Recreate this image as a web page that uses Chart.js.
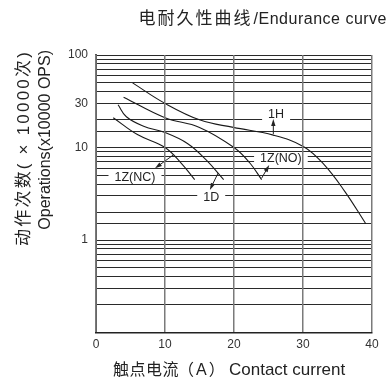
<!DOCTYPE html>
<html>
<head>
<meta charset="utf-8">
<script src="https://cdn.jsdelivr.net/npm/chart.js@4/dist/chart.umd.min.js"></script>
<style>
  body { margin: 0; background: #fff; }
  #wrap { position: relative; width: 390px; height: 379px; }
</style>
</head>
<body>
<div id="wrap"><canvas id="endurance-chart"></canvas></div>
<script>
// 曲线数据 (x: 触点电流 A, y: 动作次数 ×10000)
const curveNames = ['1H', '1Z(NO)', '1D', '1Z(NC)'];
const current1H = [5.3, 10, 15.1, 19.9, 25.7, 30.1, 33, 36, 39.1];
const ops1H = [50, 30, 19.8, 16.5, 13.6, 10.2, 6.6, 3.4, 1.5];
const current1ZNO = [4.0, 10, 15, 20, 22.3, 24];
const ops1ZNO = [35, 21, 16.5, 10, 6.8, 4.5];
const current1D = [3.2, 4.4, 6.9, 10, 13.3, 16, 18.5];
const ops1D = [29, 21.5, 17, 14.5, 11, 7.3, 4.5];
const current1ZNC = [2.5, 6, 10, 12.4, 14.3];
const ops1ZNC = [21, 13.8, 10, 6.7, 4.5];

const yTickLabels = [100, 30, 10, 1];
const xTickValues = [0, 10, 20, 30, 40];

// 曲线标注: 文字位置 + 箭头 (从曲线指向文字)
const curveLabels = [
    { text: '1H', x: 26.1, y: 23, from: [25.7, 14.0], to: [25.7, 20.3] },
    { text: '1Z(NO)', x: 26.8, y: 7.7, from: [24.0, 4.65], to: [25.1, 6.47] },
    { text: '1Z(NC)', x: 5.65, y: 4.83, from: [11.2, 8.3], to: [8.55, 5.96] },
    { text: '1D', x: 16.7, y: 2.9, from: [17.7, 5.3], to: [16.5, 3.48] }
];

const latinFont = "'Liberation Sans', Arial, sans-serif";
const cjkFont = "'Liberation Sans', 'Noto Sans CJK SC', sans-serif";

function toPoints(xs, ys) {
    return xs.map((x, i) => ({ x: x, y: ys[i] }));
}

const seriesData = [
    toPoints(current1H, ops1H),
    toPoints(current1ZNO, ops1ZNO),
    toPoints(current1D, ops1D),
    toPoints(current1ZNC, ops1ZNC)
];

const labelBoxes = {
    id: 'labelBoxes',
    beforeDatasetsDraw(chart) {
        const ctx = chart.ctx;
        const xs = chart.scales.x, ys = chart.scales.y;
        ctx.save();
        ctx.font = '12.5px ' + latinFont;
        ctx.fillStyle = '#fff';
        curveLabels.forEach(l => {
            const px = xs.getPixelForValue(l.x);
            const py = ys.getPixelForValue(l.y);
            const w = ctx.measureText(l.text).width;
            ctx.fillRect(px - w / 2 - 6, py - 6, w + 12, 13);
        });
        ctx.restore();
    },
    afterDatasetsDraw(chart) {
        const ctx = chart.ctx;
        const xs = chart.scales.x, ys = chart.scales.y;
        ctx.save();
        ctx.font = '12.5px ' + latinFont;
        ctx.fillStyle = '#222';
        ctx.strokeStyle = '#222';
        ctx.textAlign = 'center';
        ctx.textBaseline = 'middle';
        curveLabels.forEach(l => {
            const px = xs.getPixelForValue(l.x);
            const py = ys.getPixelForValue(l.y);
            ctx.fillText(l.text, px, py + 0.5);

            const x1 = xs.getPixelForValue(l.from[0]), y1 = ys.getPixelForValue(l.from[1]);
            const x2 = xs.getPixelForValue(l.to[0]), y2 = ys.getPixelForValue(l.to[1]);
            const ang = Math.atan2(y2 - y1, x2 - x1);
            ctx.lineWidth = 1;
            ctx.beginPath();
            ctx.moveTo(x1, y1);
            ctx.lineTo(x2 - 5 * Math.cos(ang), y2 - 5 * Math.sin(ang));
            ctx.stroke();
            ctx.beginPath();
            ctx.moveTo(x2, y2);
            ctx.lineTo(x2 - 7 * Math.cos(ang) + 2.2 * Math.sin(ang), y2 - 7 * Math.sin(ang) - 2.2 * Math.cos(ang));
            ctx.lineTo(x2 - 7 * Math.cos(ang) - 2.2 * Math.sin(ang), y2 - 7 * Math.sin(ang) + 2.2 * Math.cos(ang));
            ctx.closePath();
            ctx.fill();
        });
        ctx.restore();
    }
};

const titles = {
    id: 'titles',
    afterDraw(chart) {
        const ctx = chart.ctx;
        ctx.save();
        ctx.fillStyle = '#222';
        ctx.textBaseline = 'alphabetic';

        // 标题
        ctx.textAlign = 'right';
        ctx.font = '16px ' + latinFont;
        ctx.letterSpacing = '0.5px';
        const en = '/Endurance curve';
        const enW = ctx.measureText(en).width;
        ctx.fillText(en, 387, 24);
        ctx.font = '17px ' + cjkFont;
        ctx.letterSpacing = '2px';
        ctx.fillText('电耐久性曲线', 387 - enW - 1, 24);

        // x 轴标题
        ctx.textAlign = 'left';
        ctx.font = '16px ' + cjkFont;
        ctx.letterSpacing = '0.5px';
        ctx.fillText('触点电流', 113, 375);
        ctx.letterSpacing = '2px';
        ctx.fillText('（A）', 178, 375);
        ctx.font = '17px ' + latinFont;
        ctx.letterSpacing = '0px';
        ctx.fillText('Contact current', 229, 375);

        // y 轴标题
        ctx.textAlign = 'right';
        ctx.textBaseline = 'middle';
        ctx.translate(24, 50);
        ctx.rotate(-Math.PI / 2);
        ctx.font = '17px ' + cjkFont;
        ctx.letterSpacing = '2.2px';
        ctx.fillText('动作次数( × 10000次)', 0, 0);
        ctx.font = '16px ' + latinFont;
        ctx.letterSpacing = '0px';
        ctx.fillText('Operations(x10000 OPS)', 0, 22);
        ctx.restore();
    }
};

const ctx = document.getElementById('endurance-chart').getContext('2d');
const enduranceChart = new Chart(ctx, {
    type: 'line',
    data: {
        datasets: curveNames.map((name, i) => ({
            label: name,
            data: seriesData[i],
            borderColor: '#1a1a1a',
            borderWidth: 1.1,
            pointRadius: 0,
            tension: 0.4,
            fill: false
        }))
    },
    options: {
        responsive: true,
        maintainAspectRatio: false,
        animation: false,
        layout: { padding: { left: 0, right: 18, top: 55, bottom: 0 } },
        plugins: {
            legend: { display: false },
            tooltip: { enabled: false }
        },
        scales: {
            x: {
                type: 'linear',
                min: 0,
                max: 40,
                afterBuildTicks: (scale) => {
                    scale.ticks = xTickValues.map(v => ({ value: v }));
                },
                afterFit: (scale) => { scale.height = 46.5; },
                ticks: {
                    padding: 5,
                    color: '#333',
                    font: { size: 12, family: latinFont },
                    maxRotation: 0
                },
                // 竖线画在标注白底之上
                grid: { color: '#7a7a7a', lineWidth: 1.5, drawTicks: false, z: 1 },
                border: { color: '#222', width: 1.5, z: 2 }
            },
            y: {
                type: 'logarithmic',
                min: 0.1,
                max: 100,
                afterFit: (scale) => { scale.width = 96; },
                ticks: {
                    autoSkip: false,
                    padding: 8,
                    color: '#333',
                    font: { size: 12, family: latinFont },
                    callback: (v) => yTickLabels.find(t => Math.abs(t - v) < 1e-6) !== undefined ? String(v) : ''
                },
                grid: { color: '#2a2a2a', lineWidth: 1, drawTicks: false },
                border: { color: '#555', width: 2 }
            }
        }
    },
    plugins: [labelBoxes, titles]
});
</script>
</body>
</html>
